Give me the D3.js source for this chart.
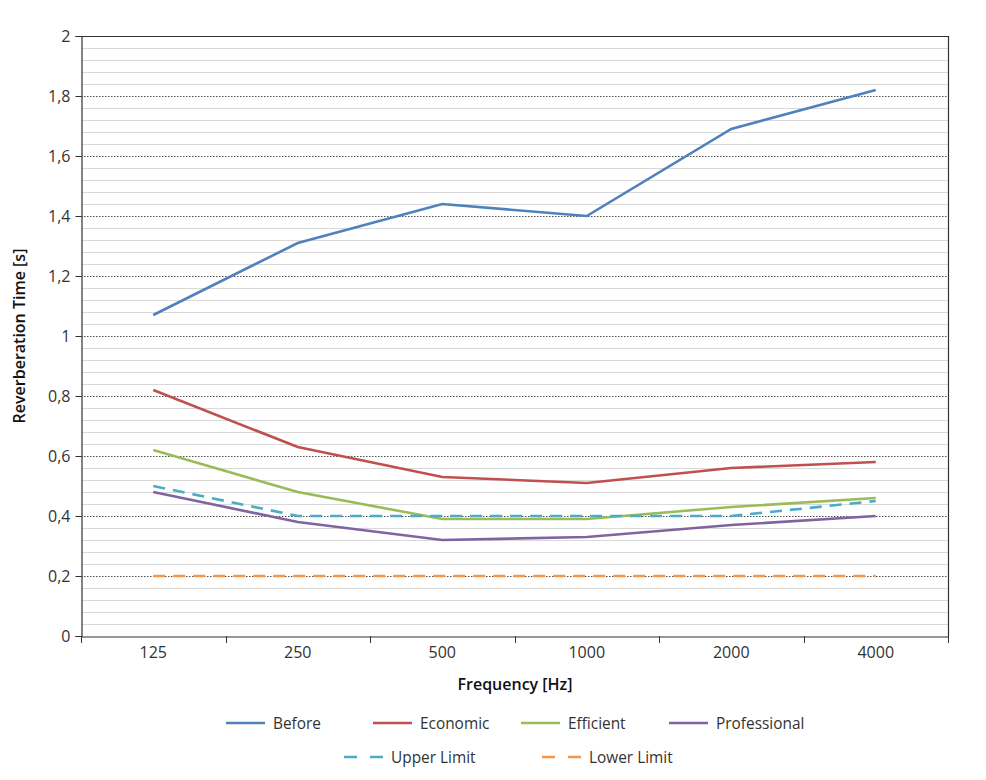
<!DOCTYPE html>
<html><head><meta charset="utf-8">
<script src="https://cdn.jsdelivr.net/npm/d3@7"></script>
<style>body{margin:0;background:#fff;} text{font-family:"Open Sans",sans-serif;}</style>
</head><body>
<svg id="c" width="986" height="780"></svg>
<script>
const categories = ["125","250","500","1000","2000","4000"];
const before = [1.07,1.31,1.44,1.40,1.69,1.82];
const economic = [0.82,0.63,0.53,0.51,0.56,0.58];
const efficient = [0.62,0.48,0.39,0.39,0.43,0.46];
const professional = [0.48,0.38,0.32,0.33,0.37,0.40];
const upperLimit = [0.50,0.40,0.40,0.40,0.40,0.45];
const lowerLimit = [0.2,0.2,0.2,0.2,0.2,0.2];
const yTicks = [0,0.2,0.4,0.6,0.8,1,1.2,1.4,1.6,1.8,2];
const seriesNames = ["Before","Economic","Efficient","Professional","Upper Limit","Lower Limit"];

const series = [
  {name:seriesNames[0], values:before, color:"#4f81bd", dash:null},
  {name:seriesNames[1], values:economic, color:"#c0504d", dash:null},
  {name:seriesNames[2], values:efficient, color:"#9bbb59", dash:null},
  {name:seriesNames[3], values:professional, color:"#8064a2", dash:null},
  {name:seriesNames[4], values:upperLimit, color:"#4bacc6", dash:"12,8"},
  {name:seriesNames[5], values:lowerLimit, color:"#f79646", dash:"12,8"}
];

const svg = d3.select("#c");
const L=81, R=948, T=36, B=636;
const x = d3.scaleBand().domain(categories).range([L,R]);
const y = d3.scaleLinear().domain([0,2]).range([B,T]);

// minor grid
const minor = d3.range(0,2.0001,0.04).filter(v=>Math.abs(v/0.2-Math.round(v/0.2))>1e-6);
svg.append("g").selectAll("line").data(minor).join("line")
  .attr("x1",L).attr("x2",R).attr("y1",d=>Math.round(y(d))+0.5).attr("y2",d=>Math.round(y(d))+0.5)
  .attr("stroke","#d9d9d9").attr("stroke-width",1);
// major grid
svg.append("g").selectAll("line").data(yTicks.filter(v=>v>0&&v<2)).join("line")
  .attr("x1",L).attr("x2",R).attr("y1",d=>Math.round(y(d))+0.5).attr("y2",d=>Math.round(y(d))+0.5)
  .attr("stroke","#222").attr("stroke-width",0.8).attr("stroke-dasharray","1.5,1.5");
// frame top/right
svg.append("line").attr("x1",L).attr("x2",R).attr("y1",T+0.5).attr("y2",T+0.5).attr("stroke","#333").attr("stroke-width",1.2);
svg.append("line").attr("x1",R+0.5).attr("x2",R+0.5).attr("y1",T).attr("y2",B).attr("stroke","#333").attr("stroke-width",1.2);

// y axis
const yAxis = svg.append("g").attr("transform",`translate(${L+0.5},0)`)
  .call(d3.axisLeft(y).tickValues(yTicks).tickSize(6).tickPadding(5)
    .tickFormat(d=>d3.format("~g")(d).replace(".",",")));
yAxis.select(".domain").attr("stroke","#333").attr("stroke-width",1.2);
yAxis.selectAll(".tick line").attr("stroke","#333");
yAxis.selectAll("text").attr("font-size",16).attr("fill","#333").attr("font-family","Open Sans");

// x axis
const xAxis = svg.append("g").attr("transform",`translate(0,${B+0.5})`)
  .call(d3.axisBottom(x).tickSize(0).tickPadding(10));
xAxis.select(".domain").attr("stroke","#333").attr("stroke-width",1.2);
xAxis.selectAll("text").attr("font-size",16).attr("fill","#333").attr("font-family","Open Sans");
const bounds = categories.map(c=>x(c)).concat([R]);
svg.append("g").selectAll("line").data(bounds).join("line")
  .attr("x1",d=>Math.round(d)+0.5).attr("x2",d=>Math.round(d)+0.5).attr("y1",B).attr("y2",B+7)
  .attr("stroke","#333").attr("stroke-width",1);

// titles
svg.append("text").attr("x",515).attr("y",690).attr("text-anchor","middle")
  .attr("font-size",16).attr("font-weight",600).attr("fill","#111").text("Frequency [Hz]");
svg.append("text").attr("transform","translate(25,336) rotate(-90)").attr("text-anchor","middle")
  .attr("font-size",16).attr("font-weight",600).attr("fill","#111").text("Reverberation Time [s]");

// lines
const line = d3.line().x((d,i)=>x(categories[i])+x.bandwidth()/2).y(d=>y(d));
svg.append("g").selectAll("path").data(series).join("path")
  .attr("d",d=>line(d.values)).attr("fill","none").attr("stroke",d=>d.color)
  .attr("stroke-width",2.6).attr("stroke-dasharray",d=>d.dash);

// legend
const legPos = [[226,723],[373,723],[521,723],[669,723],[344,757],[542,757]];
const lg = svg.append("g").selectAll("g").data(series).join("g")
  .attr("transform",(d,i)=>`translate(${legPos[i][0]},${legPos[i][1]})`);
lg.append("line").attr("x1",0).attr("x2",39).attr("y1",0).attr("y2",0)
  .attr("stroke",d=>d.color).attr("stroke-width",2.6)
  .attr("stroke-dasharray",d=>d.dash?"13,13":null);
lg.append("text").attr("x",47).attr("y",5.5).attr("font-size",15.4).attr("fill","#333").text(d=>d.name);
</script>
</body></html>
